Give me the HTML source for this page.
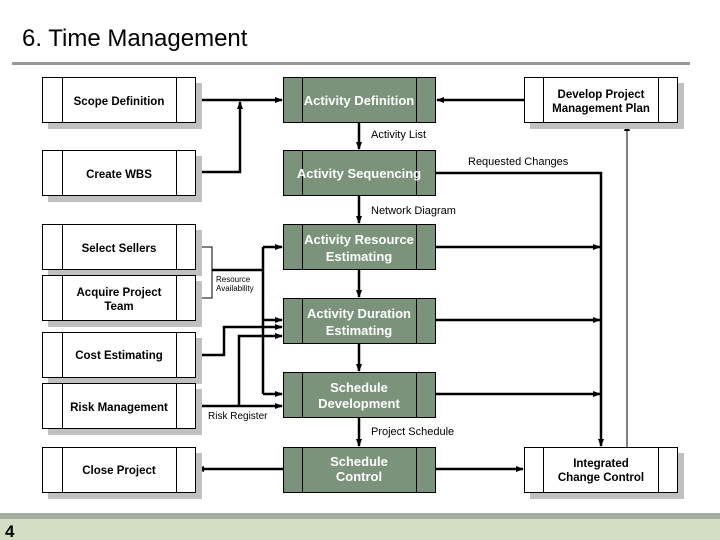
<!DOCTYPE html>
<html><head><meta charset="utf-8"><style>
body{margin:0;width:720px;height:540px;overflow:hidden;background:#fff}
svg{display:block}
text{font-family:"Liberation Sans",sans-serif}
.b{font-weight:bold;font-size:11.5px;fill:#000}
.g{font-weight:bold;font-size:13px;fill:#fff}
.l{font-size:11px;fill:#000}
</style></head><body>
<svg width="720" height="540" viewBox="0 0 720 540" xmlns="http://www.w3.org/2000/svg">
<defs>
<marker id="a" markerWidth="8" markerHeight="8" refX="7" refY="4" orient="auto" markerUnits="userSpaceOnUse"><path d="M0,1 L8,4 L0,7 z" fill="#000"/></marker>
</defs>
<text x="22" y="46" font-size="24" fill="#000">6. Time Management</text>
<rect x="12" y="62" width="678" height="3" fill="#999"/>
<rect x="0" y="513" width="720" height="6" fill="#a3ada3"/>
<rect x="0" y="519" width="720" height="21" fill="#d3ddc3"/>
<text x="5" y="537" font-size="17" font-weight="bold" fill="#000">4</text>

<g stroke="#000" fill="none" stroke-width="2.5">
<line x1="196" y1="100" x2="282" y2="100" marker-end="url(#a)"/>
<polyline points="196,172 240,172 240,102" marker-end="url(#a)"/>
<line x1="524" y1="100" x2="437" y2="100" marker-end="url(#a)"/>
<line x1="359" y1="122" x2="359" y2="149" marker-end="url(#a)"/>
<line x1="359" y1="195" x2="359" y2="223" marker-end="url(#a)"/>
<line x1="359" y1="270" x2="359" y2="297" marker-end="url(#a)"/>
<line x1="359" y1="343" x2="359" y2="371" marker-end="url(#a)"/>
<line x1="359" y1="417" x2="359" y2="446" marker-end="url(#a)"/>
<polyline points="436,173 601,173 601,446" marker-end="url(#a)"/>
<line x1="436" y1="247" x2="600" y2="247" marker-end="url(#a)"/>
<line x1="436" y1="320" x2="600" y2="320" marker-end="url(#a)"/>
<line x1="436" y1="394" x2="600" y2="394" marker-end="url(#a)"/>
<line x1="283" y1="469" x2="197" y2="469" marker-end="url(#a)"/>
<line x1="436" y1="469" x2="523" y2="469" marker-end="url(#a)"/>
<polyline points="212,270 263,270"/>
<line x1="263" y1="247" x2="263" y2="394"/>
<line x1="263" y1="247" x2="282" y2="247" marker-end="url(#a)"/>
<line x1="263" y1="320" x2="282" y2="320" marker-end="url(#a)"/>
<line x1="263" y1="394" x2="282" y2="394" marker-end="url(#a)"/>
<polyline points="196,355 224,355 224,327 282,327" marker-end="url(#a)"/>
<line x1="196" y1="406" x2="282" y2="406" marker-end="url(#a)"/>
<polyline points="239,406 239,336 282,336" marker-end="url(#a)"/>
</g>
<g stroke="#000" fill="none" stroke-width="1">
<polyline points="196,247 212,247 212,298 196,298"/>
<line x1="627" y1="447" x2="627" y2="124" marker-end="url(#a)"/>
</g>

<g fill="#c0c0c0">
<rect x="48" y="83" width="154" height="46"/>
<rect x="48" y="156" width="154" height="46"/>
<rect x="48" y="230" width="154" height="46"/>
<rect x="48" y="281" width="154" height="46"/>
<rect x="48" y="338" width="154" height="46"/>
<rect x="48" y="389" width="154" height="46"/>
<rect x="48" y="453" width="154" height="46"/>
<rect x="530" y="83" width="154" height="46"/>
<rect x="530" y="453" width="154" height="46"/>
</g>
<g fill="#fff" stroke="#000" stroke-width="1">
<rect x="42.5" y="77.5" width="153" height="45"/><line x1="62.5" y1="77" x2="62.5" y2="123"/><line x1="176.5" y1="77" x2="176.5" y2="123"/>
<rect x="42.5" y="150.5" width="153" height="45"/><line x1="62.5" y1="150" x2="62.5" y2="196"/><line x1="176.5" y1="150" x2="176.5" y2="196"/>
<rect x="42.5" y="224.5" width="153" height="45"/><line x1="62.5" y1="224" x2="62.5" y2="270"/><line x1="176.5" y1="224" x2="176.5" y2="270"/>
<rect x="42.5" y="275.5" width="153" height="45"/><line x1="62.5" y1="275" x2="62.5" y2="321"/><line x1="176.5" y1="275" x2="176.5" y2="321"/>
<rect x="42.5" y="332.5" width="153" height="45"/><line x1="62.5" y1="332" x2="62.5" y2="378"/><line x1="176.5" y1="332" x2="176.5" y2="378"/>
<rect x="42.5" y="383.5" width="153" height="45"/><line x1="62.5" y1="383" x2="62.5" y2="429"/><line x1="176.5" y1="383" x2="176.5" y2="429"/>
<rect x="42.5" y="447.5" width="153" height="45"/><line x1="62.5" y1="447" x2="62.5" y2="493"/><line x1="176.5" y1="447" x2="176.5" y2="493"/>
<rect x="524.5" y="77.5" width="153" height="45"/><line x1="543.5" y1="77" x2="543.5" y2="123"/><line x1="658.5" y1="77" x2="658.5" y2="123"/>
<rect x="524.5" y="447.5" width="153" height="45"/><line x1="543.5" y1="447" x2="543.5" y2="493"/><line x1="658.5" y1="447" x2="658.5" y2="493"/>
</g>
<g fill="#7a937a" stroke="#000" stroke-width="1">
<rect x="283.5" y="77.5" width="152" height="45"/><line x1="302.5" y1="77" x2="302.5" y2="123"/><line x1="416.5" y1="77" x2="416.5" y2="123"/>
<rect x="283.5" y="150.5" width="152" height="45"/><line x1="302.5" y1="150" x2="302.5" y2="196"/><line x1="416.5" y1="150" x2="416.5" y2="196"/>
<rect x="283.5" y="224.5" width="152" height="45"/><line x1="302.5" y1="224" x2="302.5" y2="270"/><line x1="416.5" y1="224" x2="416.5" y2="270"/>
<rect x="283.5" y="298.5" width="152" height="45"/><line x1="302.5" y1="298" x2="302.5" y2="344"/><line x1="416.5" y1="298" x2="416.5" y2="344"/>
<rect x="283.5" y="372.5" width="152" height="45"/><line x1="302.5" y1="372" x2="302.5" y2="418"/><line x1="416.5" y1="372" x2="416.5" y2="418"/>
<rect x="283.5" y="447.5" width="152" height="45"/><line x1="302.5" y1="447" x2="302.5" y2="493"/><line x1="416.5" y1="447" x2="416.5" y2="493"/>
</g>

<g class="b" text-anchor="middle">
<text x="119" y="105">Scope Definition</text>
<text x="119" y="178">Create WBS</text>
<text x="119" y="252">Select Sellers</text>
<text x="119" y="296">Acquire Project</text>
<text x="119" y="310">Team</text>
<text x="119" y="359">Cost Estimating</text>
<text x="119" y="411">Risk Management</text>
<text x="119" y="474">Close Project</text>
<text x="601" y="98">Develop Project</text>
<text x="601" y="112">Management Plan</text>
<text x="601" y="467">Integrated</text>
<text x="601" y="481">Change Control</text>
</g>
<g class="g" text-anchor="middle">
<text x="359" y="105">Activity Definition</text>
<text x="359" y="178">Activity Sequencing</text>
<text x="359" y="244">Activity Resource</text>
<text x="359" y="261">Estimating</text>
<text x="359" y="318">Activity Duration</text>
<text x="359" y="335">Estimating</text>
<text x="359" y="392">Schedule</text>
<text x="359" y="408">Development</text>
<text x="359" y="466">Schedule</text>
<text x="359" y="481">Control</text>
</g>
<g class="l">
<text x="371" y="138">Activity List</text>
<text x="371" y="214">Network Diagram</text>
<text x="468" y="165">Requested Changes</text>
<text x="371" y="435">Project Schedule</text>
<text x="208" y="419" font-size="10">Risk Register</text>
<text x="216" y="282" font-size="8">Resource</text>
<text x="216" y="291" font-size="8">Availability</text>
</g>
</svg>
</body></html>
